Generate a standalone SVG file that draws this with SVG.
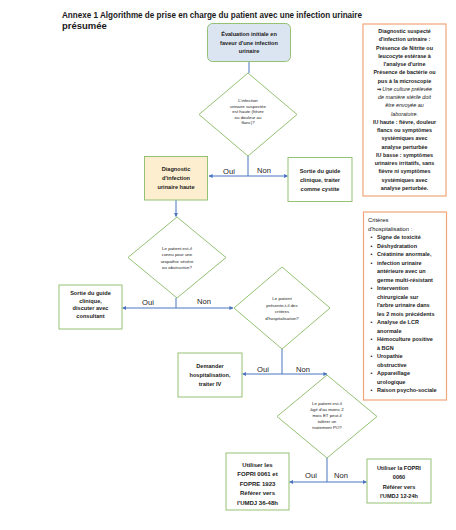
<svg xmlns="http://www.w3.org/2000/svg" width="456" height="530" viewBox="0 0 456 530">
<style>
text{font-family:"Liberation Sans",Arial,sans-serif;fill:#1a1a1a}
.t{font-size:9.5px;font-weight:bold}
.b{font-size:5.6px;font-weight:bold;text-anchor:middle}
.bl{font-size:6px;font-weight:bold;text-anchor:middle}
.d{font-size:4.4px;text-anchor:middle}
.lab{font-size:7.6px;text-anchor:middle}
.r1{font-size:5.4px;font-weight:bold;text-anchor:middle}
.r1i{font-size:5.4px;font-style:italic;text-anchor:middle}
.r2{font-size:5.5px;font-weight:bold}
.r2h{font-size:5.8px;fill:#111111}
.box{fill:#ffffff;stroke:#94c173;stroke-width:1}
.dia{fill:#ffffff;stroke:#94c173;stroke-width:1}
.side{fill:#ffffff;stroke:#f0a67a;stroke-width:1.2}
.c{fill:none;stroke:#4a74c0;stroke-width:1}
</style>
<defs>
<marker id="ah" viewBox="0 0 10 10" refX="9" refY="5" markerWidth="4" markerHeight="4" orient="auto" markerUnits="userSpaceOnUse">
<path d="M0,0 L10,5 L0,10 z" fill="#4a74c0"/>
</marker>
</defs>
<rect width="456" height="530" fill="#ffffff"/>
<g id="title">
<text class="t" x="62" y="18" textLength="300" lengthAdjust="spacingAndGlyphs">Annexe 1 Algorithme de prise en charge du patient avec une infection urinaire</text>
<text class="t" x="62" y="29">présumée</text>
</g>
<g id="connectors">
<line class="c" x1="249" y1="61" x2="249" y2="73"/>
<line class="c" x1="248" y1="156" x2="248" y2="176"/>
<line class="c" x1="248" y1="176" x2="209" y2="176" marker-end="url(#ah)"/>
<line class="c" x1="248" y1="176" x2="287.5" y2="176" marker-end="url(#ah)"/>
<line class="c" x1="176" y1="200" x2="176" y2="216.5" marker-end="url(#ah)"/>
<line class="c" x1="176" y1="298" x2="176" y2="308"/>
<line class="c" x1="176" y1="308" x2="122.5" y2="308" marker-end="url(#ah)"/>
<line class="c" x1="176" y1="308" x2="233" y2="308" marker-end="url(#ah)"/>
<line class="c" x1="282" y1="349" x2="282" y2="374"/>
<line class="c" x1="282" y1="374" x2="242.5" y2="374" marker-end="url(#ah)"/>
<line class="c" x1="282" y1="374" x2="327" y2="374" marker-end="url(#ah)"/>
<line class="c" x1="327" y1="458" x2="327" y2="482"/>
<line class="c" x1="327" y1="482" x2="289.5" y2="482" marker-end="url(#ah)"/>
<line class="c" x1="327" y1="482" x2="366.5" y2="482" marker-end="url(#ah)"/>
<text class="lab" x="229" y="174">Oui</text>
<text class="lab" x="264" y="173">Non</text>
<text class="lab" x="148" y="305">Oui</text>
<text class="lab" x="204" y="304">Non</text>
<text class="lab" x="263" y="372">Oui</text>
<text class="lab" x="303" y="372">Non</text>
<text class="lab" x="311" y="478">Oui</text>
<text class="lab" x="341" y="478">Non</text>
</g>
<g id="n-eval">
<rect x="207.5" y="23.5" width="83" height="38" rx="5" fill="#dbe4f1" stroke="#94c173" stroke-width="1"/>
<text class="b" x="249" y="36">Évaluation initiale en</text>
<text class="b" x="249" y="44.5">faveur d'une infection</text>
<text class="b" x="249" y="53">urinaire</text>
</g>
<g id="n-q1">
<polygon class="dia" points="248,73 297,114.5 248,156 199,114.5"/>
<text class="d" x="248" y="102">L'infection</text>
<text class="d" x="248" y="107.5">urinaire suspectée</text>
<text class="d" x="248" y="113">est haute (fièvre</text>
<text class="d" x="248" y="118.5">ou douleur au</text>
<text class="d" x="248" y="124">flanc)?</text>
</g>
<g id="n-diag">
<rect x="144.5" y="156.5" width="63" height="43.5" fill="#fdeecf" stroke="#94c173" stroke-width="1"/>
<text class="b" x="176" y="171">Diagnostic</text>
<text class="b" x="176" y="180">d'infection</text>
<text class="b" x="176" y="189">urinaire haute</text>
</g>
<g id="n-cystite">
<rect class="box" x="288" y="157.5" width="64" height="44"/>
<text class="b" x="320" y="173">Sortie du guide</text>
<text class="b" x="320" y="182">clinique, traiter</text>
<text class="b" x="320" y="191">comme cystite</text>
</g>
<g id="n-q2">
<polygon class="dia" points="177,217 226,257.5 177,298 128,257.5"/>
<text class="d" x="177" y="250">Le patient est-il</text>
<text class="d" x="177" y="256">connu pour une</text>
<text class="d" x="177" y="262.5">uropathie sévère</text>
<text class="d" x="177" y="268.5">ou obstructive?</text>
</g>
<g id="n-discuter">
<rect class="box" x="59" y="285" width="63" height="44"/>
<text class="b" x="90.5" y="295">Sortie du guide</text>
<text class="b" x="90.5" y="302.5">clinique,</text>
<text class="b" x="90.5" y="310">discuter avec</text>
<text class="b" x="90.5" y="317.5">consultant</text>
</g>
<g id="n-q3">
<polygon class="dia" points="282,267 330,308 282,349 234,308"/>
<text class="d" x="282" y="300">Le patient</text>
<text class="d" x="282" y="306.5">présente-t-il des</text>
<text class="d" x="282" y="313">critères</text>
<text class="d" x="282" y="319.5">d'hospitalisation?</text>
</g>
<g id="n-demander">
<rect class="box" x="178" y="353" width="64" height="44"/>
<text class="b" x="210" y="368">Demander</text>
<text class="b" x="210" y="377">hospitalisation,</text>
<text class="b" x="210" y="386">traiter IV</text>
</g>
<g id="n-q4">
<polygon class="dia" points="327,375 377,416.5 327,458 277,416.5"/>
<text class="d" x="327" y="404.5">Le patient est-il</text>
<text class="d" x="327" y="410.5">âgé d'au moins 2</text>
<text class="d" x="327" y="416.5">mois ET peut-il</text>
<text class="d" x="327" y="422.5">tolérer un</text>
<text class="d" x="327" y="428.5">traitement PO?</text>
</g>
<g id="n-fopri0061">
<rect class="box" x="226" y="453" width="63" height="57"/>
<text class="bl" x="257.5" y="466.5">Utiliser les</text>
<text class="bl" x="257.5" y="476">FOPRI 0061 et</text>
<text class="bl" x="257.5" y="485.5">FOPRE 1923</text>
<text class="bl" x="257.5" y="495">Référer vers</text>
<text class="bl" x="257.5" y="504.5">l'UMDJ 36-48h</text>
</g>
<g id="n-fopri0060">
<rect class="box" x="367" y="459" width="64" height="44"/>
<text class="b" x="399" y="470">Utiliser la FOPRI</text>
<text class="b" x="399" y="479">0060</text>
<text class="b" x="399" y="488.5">Référer vers</text>
<text class="b" x="399" y="497.5">l'UMDJ 12-24h</text>
</g>
<g id="n-diagnostic-info">
<rect class="side" x="363" y="24" width="83" height="172"/>
<text class="r1" x="404.5" y="33">Diagnostic suspecté</text>
<text class="r1" x="404.5" y="41.3">d'infection urinaire :</text>
<text class="r1" x="404.5" y="49.5">Présence de Nitrite ou</text>
<text class="r1" x="404.5" y="57.8">leucocyte estérase à</text>
<text class="r1" x="404.5" y="66">l'analyse d'urine</text>
<text class="r1" x="404.5" y="74.3">Présence de bactérie ou</text>
<text class="r1" x="404.5" y="82.6">pus à la microscopie</text>
<text class="r1i" x="404.5" y="90.8"><tspan font-weight="bold" font-style="normal">⇒</tspan> Une culture prélevée</text>
<text class="r1i" x="404.5" y="99.1">de manière stérile doit</text>
<text class="r1i" x="404.5" y="107.3">être envoyée au</text>
<text class="r1i" x="404.5" y="115.6">laboratoire.</text>
<text class="r1" x="404.5" y="123.9">IU haute : fièvre, douleur</text>
<text class="r1" x="404.5" y="132.1">flancs ou symptômes</text>
<text class="r1" x="404.5" y="140.4">systémiques avec</text>
<text class="r1" x="404.5" y="148.6">analyse perturbée</text>
<text class="r1" x="404.5" y="156.9">IU basse : symptômes</text>
<text class="r1" x="404.5" y="165.2">urinaires irritatifs, sans</text>
<text class="r1" x="404.5" y="173.4">fièvre ni symptômes</text>
<text class="r1" x="404.5" y="181.7">systémiques avec</text>
<text class="r1" x="404.5" y="190">analyse perturbée.</text>
</g>
<g id="n-criteres">
<rect class="side" x="363.5" y="212" width="83" height="188"/>
<text class="r2h" x="368" y="222">Critères</text>
<text class="r2h" x="368" y="230.5">d'hospitalisation :</text>
<g>
<text class="r2" x="370.5" y="239">•</text><text class="r2" x="377" y="239">Signe de toxicité</text>
<text class="r2" x="370.5" y="247.5">•</text><text class="r2" x="377" y="247.5">Déshydratation</text>
<text class="r2" x="370.5" y="256">•</text><text class="r2" x="377" y="256">Créatinine anormale,</text>
<text class="r2" x="370.5" y="264.5">•</text><text class="r2" x="377" y="264.5">infection urinaire</text>
<text class="r2" x="377" y="273">antérieure avec un</text>
<text class="r2" x="377" y="281.5">germe multi-résistant</text>
<text class="r2" x="370.5" y="290">•</text><text class="r2" x="377" y="290">Intervention</text>
<text class="r2" x="377" y="298.5">chirurgicale sur</text>
<text class="r2" x="377" y="307">l'arbre urinaire dans</text>
<text class="r2" x="377" y="315.5">les 2 mois précédents</text>
<text class="r2" x="370.5" y="324">•</text><text class="r2" x="377" y="324">Analyse de LCR</text>
<text class="r2" x="377" y="332.5">anormale</text>
<text class="r2" x="370.5" y="341">•</text><text class="r2" x="377" y="341">Hémoculture positive</text>
<text class="r2" x="377" y="349.5">à BGN</text>
<text class="r2" x="370.5" y="358">•</text><text class="r2" x="377" y="358">Uropathie</text>
<text class="r2" x="377" y="366.5">obstructive</text>
<text class="r2" x="370.5" y="375">•</text><text class="r2" x="377" y="375">Appareillage</text>
<text class="r2" x="377" y="383.5">urologique</text>
<text class="r2" x="370.5" y="392">•</text><text class="r2" x="377" y="392">Raison psycho-sociale</text>
</g>
</g>
</svg>
